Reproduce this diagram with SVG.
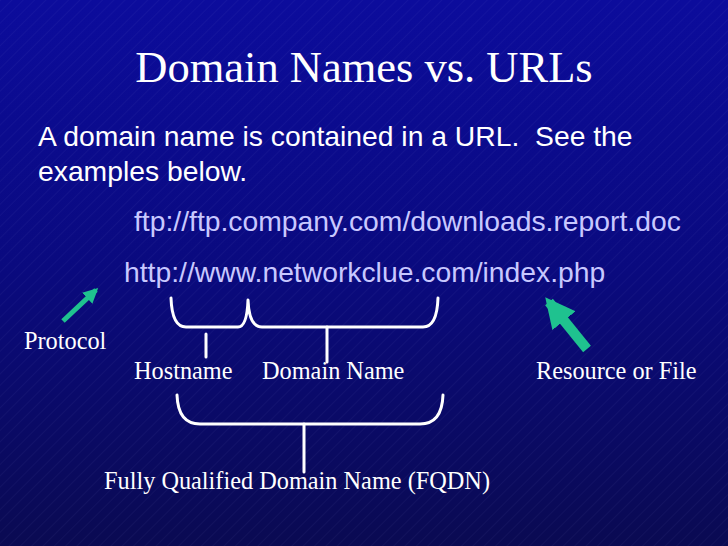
<svg xmlns="http://www.w3.org/2000/svg" width="728" height="546" viewBox="0 0 728 546">
<defs>
<linearGradient id="bg" x1="0" y1="0" x2="0" y2="1">
<stop offset="0" stop-color="#0c0c9c"/>
<stop offset="0.5" stop-color="#0a0a7e"/>
<stop offset="1" stop-color="#0a0a52"/>
</linearGradient>
<pattern id="hatch" width="8" height="8" patternUnits="userSpaceOnUse" patternTransform="rotate(45)">
<line x1="0" y1="0" x2="0" y2="8" stroke="#9a9ae0" stroke-width="0.6" stroke-opacity="0.2"/>
</pattern>
<marker id="ah" viewBox="0 0 10 10" refX="8" refY="5" markerWidth="3" markerHeight="3" orient="auto" markerUnits="strokeWidth">
<path d="M0,0 L10,5 L0,10 Z" fill="#1fc28f"/>
</marker>
</defs>
<style>
.title{font-family:"Liberation Serif",serif;font-size:44.5px;fill:#ffffff}
.body{font-family:"Liberation Sans",sans-serif;font-size:28.3px;fill:#ffffff}
.url{font-family:"Liberation Sans",sans-serif;font-size:28.3px;fill:#c8c8ff}
.lbl{font-family:"Liberation Serif",serif;font-size:24.3px;fill:#ffffff}
.brace{fill:none;stroke:#ffffff;stroke-width:3;stroke-linecap:round;stroke-linejoin:round}
.arrow{stroke:#1fc28f;fill:none}
</style>
<rect width="728" height="546" fill="url(#bg)"/>
<rect width="728" height="546" fill="url(#hatch)"/>
<text class="title" x="364" y="82" text-anchor="middle">Domain Names vs. URLs</text>
<text class="body" x="38" y="146" xml:space="preserve">A domain name is contained in a URL.  See the</text>
<text class="body" x="38" y="181">examples below.</text>
<text class="url" x="134" y="231">ftp://ftp.company.com/downloads.report.doc</text>
<text class="url" x="124" y="282">http://www.networkclue.com/index.php</text>
<g id="connectors">
<path class="brace" d="M171,298 Q172,327 186,327 L238,327 Q247,327 248,300 Q249,327 262,327 L423,327 Q437,327 438,298"/>
<line class="brace" x1="206" y1="334" x2="206" y2="357"/>
<line class="brace" x1="327" y1="327" x2="327" y2="362"/>
<path class="brace" d="M177,395 Q178,424 200,424 L420,424 Q442,424 443,395"/>
<line class="brace" x1="304" y1="424" x2="304" y2="472"/>
<line class="arrow" x1="63" y1="321" x2="96" y2="290" stroke-width="5" marker-end="url(#ah)"/>
<line class="arrow" x1="587" y1="349" x2="549" y2="302" stroke-width="10" marker-end="url(#ah)"/>
</g>
<g id="protocol"><text class="lbl" x="24" y="349">Protocol</text></g>
<g id="hostname"><text class="lbl" x="134" y="379">Hostname</text></g>
<g id="domain"><text class="lbl" x="262" y="379">Domain Name</text></g>
<g id="resource"><text class="lbl" x="536" y="379">Resource or File</text></g>
<g id="fqdn"><text class="lbl" x="104" y="489">Fully Qualified Domain Name (FQDN)</text></g>
</svg>
